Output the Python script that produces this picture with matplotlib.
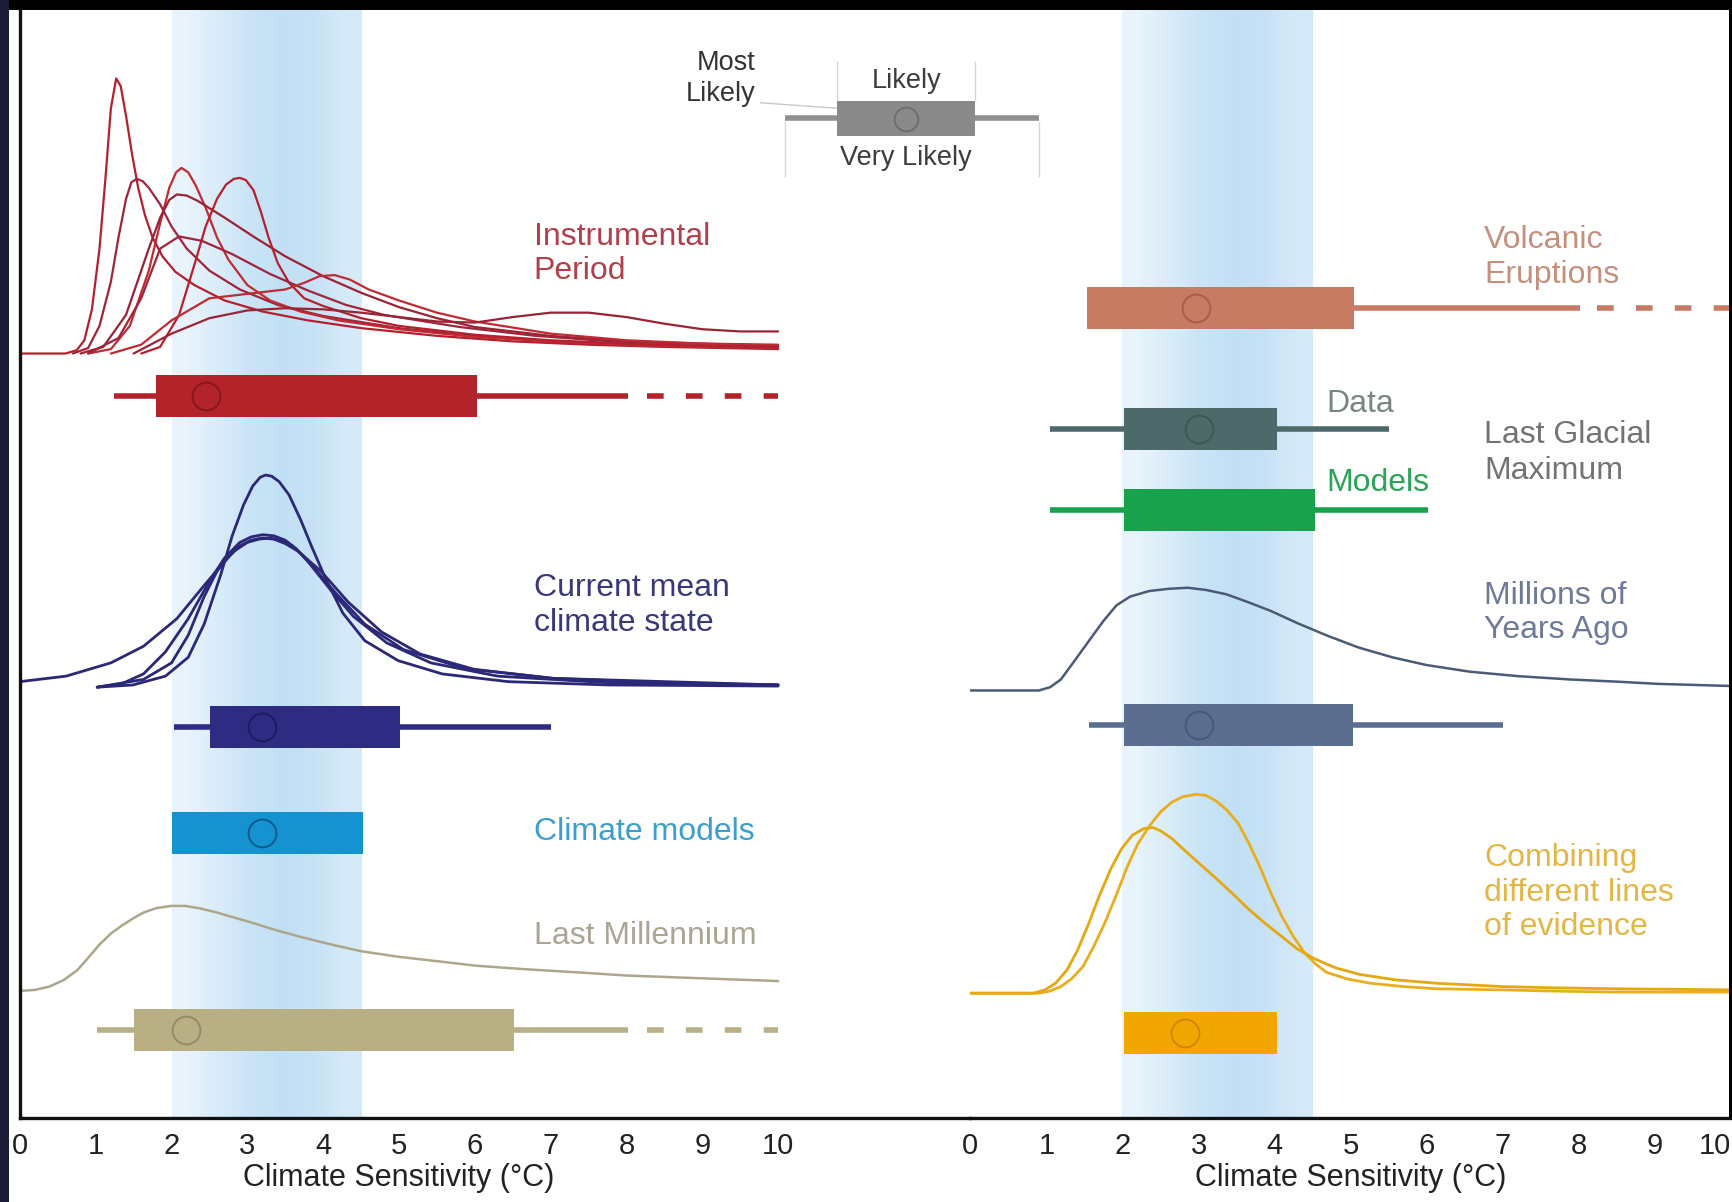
import matplotlib
matplotlib.use('Agg')
import matplotlib.pyplot as plt
from matplotlib.colors import LinearSegmentedColormap
from matplotlib.patches import Rectangle

plt.rcParams['font.family'] = ['Liberation Sans', 'DejaVu Sans']

# ---------------- data (climate sensitivity, deg C) ----------------
ticks = list(range(0, 11))
tick_labels = [str(t) for t in ticks]
xlabel = 'Climate Sensitivity (°C)'

# Instrumental period PDFs (x, relative height)
inst_x = [
    [0, 0.6, 0.75, 0.85, 0.95, 1.05, 1.13, 1.2, 1.27, 1.33, 1.4, 1.48, 1.56, 1.65, 1.75, 1.88, 2.05, 2.3, 2.7, 3.2, 3.8, 4.5, 5.5, 6.5, 7.5, 8.5, 10],
    [0.7, 0.9, 1.05, 1.2, 1.3, 1.4, 1.47, 1.54, 1.62, 1.7, 1.85, 2.0, 2.2, 2.5, 2.9, 3.4, 4.0, 5.0, 6.0, 7.0, 8.0, 9.0, 10],
    [0.9, 1.2, 1.45, 1.7, 1.85, 1.97, 2.06, 2.13, 2.22, 2.32, 2.45, 2.6, 2.75, 3.0, 3.3, 3.7, 4.2, 5.0, 6.0, 7.0, 8.0, 9.0, 10],
    [0.8, 1.1, 1.4, 1.7, 1.85, 1.97, 2.07, 2.2, 2.35, 2.7, 3.1, 3.5, 4.0, 4.5, 5.0, 5.5, 6.0, 7.0, 8.0, 9.0, 10],
    [1.6, 1.85, 2.1, 2.3, 2.45, 2.6, 2.72, 2.82, 2.9, 2.98, 3.08, 3.18, 3.28, 3.4, 3.55, 3.75, 4.0, 4.5, 5.0, 6.0, 7.0, 8.0, 9.0, 10],
    [0.9, 1.3, 1.6, 1.85, 2.1, 2.4, 2.8, 3.3, 3.8, 4.3, 4.8, 5.8, 6.8, 7.8, 8.8, 10],
    [1.2, 1.6, 2.0, 2.5, 3.0, 3.5, 3.75, 3.95, 4.15, 4.35, 4.6, 5.0, 5.5, 6.0, 7.0, 8.0, 9.0, 10],
    [1.5, 2.0, 2.5, 3.0, 3.5, 4.0, 4.5, 5.0, 5.5, 6.0, 6.5, 7.0, 7.5, 8.0, 8.5, 9.0, 9.5, 10],
]
inst_h = [
    [0, 0, 3, 12, 40, 95, 160, 222, 249, 242, 215, 180, 150, 125, 105, 88, 74, 62, 48, 38, 30, 23, 16, 11, 8, 6, 4],
    [0, 5, 25, 65, 105, 140, 155, 158, 156, 150, 135, 115, 95, 75, 58, 44, 34, 23, 16, 11, 8, 6, 5],
    [0, 4, 25, 75, 118, 150, 164, 168, 164, 152, 132, 105, 85, 62, 48, 38, 30, 22, 15, 11, 8, 6, 5],
    [0, 6, 35, 95, 123, 139, 144, 143, 138, 123, 105, 88, 70, 55, 42, 32, 24, 16, 11, 9, 7],
    [0, 6, 35, 80, 115, 140, 153, 158, 159, 157, 148, 128, 105, 82, 64, 50, 43, 32, 25, 17, 12, 9, 7, 6],
    [0, 14, 50, 95, 106, 102, 90, 72, 57, 44, 35, 24, 16, 11, 9, 7],
    [0, 8, 30, 50, 54, 58, 64, 70, 71, 67, 58, 48, 37, 29, 18, 12, 9, 8],
    [0, 18, 32, 39, 41, 40, 37, 33, 29, 28, 33, 37, 37, 33, 27, 22, 20, 20],
]

# Current mean climate state PDFs
cur_x = [
    [1.02, 1.49, 1.92, 2.22, 2.43, 2.65, 2.8, 2.95, 3.07, 3.17, 3.24, 3.32, 3.42, 3.55, 3.7, 3.85, 4.04, 4.26, 4.55, 4.99, 5.57, 6.44, 7.76, 10],
    [1.02, 1.34, 1.63, 1.92, 2.22, 2.51, 2.7, 2.9, 3.05, 3.2, 3.35, 3.5, 3.65, 3.82, 4.11, 4.4, 4.84, 5.42, 6.3, 7.76, 10],
    [0, 0.61, 1.2, 1.63, 2.07, 2.43, 2.7, 2.9, 3.05, 3.2, 3.35, 3.5, 3.67, 3.97, 4.33, 4.77, 5.28, 6.0, 7.03, 8.48, 10],
    [1.02, 1.63, 2.0, 2.22, 2.43, 2.6, 2.8, 3.0, 3.15, 3.3, 3.45, 3.59, 3.75, 3.88, 4.18, 4.55, 5.06, 5.86, 7.03, 10],
]
cur_h = [
    [-2, 0, 8, 25, 55, 100, 135, 163, 180, 188, 190, 189, 184, 172, 150, 125, 95, 65, 40, 22, 10, 3, 0, -1],
    [-2, 1, 10, 30, 60, 95, 115, 129, 134, 136, 135, 131, 123, 110, 85, 62, 38, 20, 8, 2, 0],
    [3, 8, 20, 35, 60, 90, 112, 126, 131, 133, 132, 128, 121, 103, 75, 48, 28, 14, 6, 2, 0],
    [-2, 5, 20, 45, 80, 103, 120, 129, 132, 133, 131, 126, 116, 106, 82, 55, 32, 15, 6, 0],
]

# Last millennium PDF
lm_x = [0, 0.2, 0.39, 0.58, 0.76, 0.9, 1.05, 1.2, 1.34, 1.5, 1.63, 1.8, 1.99, 2.18, 2.36, 2.6, 2.8, 3.1, 3.38, 3.7,
        4.11, 4.5, 4.99, 5.5, 6.0, 6.6, 7.32, 8.0, 8.78, 10]
lm_h = [0, 1, 4, 10, 19, 30, 42, 52, 59, 66, 71, 75, 77, 77, 75, 71, 67, 61, 55, 49, 42, 36, 31, 27, 23, 20, 17, 14, 12, 9]

# Millions of years ago PDF
mya_x = [0, 0.9, 1.05, 1.19, 1.35, 1.56, 1.75, 1.92, 2.1, 2.35, 2.6, 2.86, 3.1, 3.37, 3.65, 3.95, 4.3, 4.68, 5.1,
         5.55, 6.0, 6.57, 7.2, 7.88, 8.5, 9.04, 10.03]
mya_h = [0, 0, 3, 10, 25, 45, 63, 77, 85, 90, 92, 93, 91, 87, 80, 72, 61, 50, 39, 30, 23, 17, 13, 10, 8, 6, 4]

# Combining different lines of evidence PDFs
comb_x = [
    [0, 0.9, 1.05, 1.19, 1.33, 1.48, 1.62, 1.77, 1.92, 2.06, 2.2, 2.35, 2.5, 2.65, 2.8, 2.97, 3.1, 3.23, 3.37, 3.52,
     3.66, 3.81, 3.95, 4.1, 4.25, 4.39, 4.53, 4.68, 4.95, 5.26, 5.7, 6.13, 7.0, 7.59, 8.5, 10.03],
    [0, 0.83, 0.98, 1.12, 1.27, 1.41, 1.55, 1.7, 1.85, 1.99, 2.13, 2.28, 2.4, 2.5, 2.65, 2.79, 3.0, 3.23, 3.45, 3.66,
     3.88, 4.1, 4.3, 4.53, 4.8, 5.12, 5.6, 6.13, 7.0, 7.59, 8.5, 10.03],
]
comb_h = [
    [0, 0, 2, 6, 13, 24, 42, 64, 89, 114, 135, 151, 164, 173, 178, 180, 179, 174, 166, 154,
     136, 114, 91, 69, 51, 37, 27, 19, 13, 9, 6, 4, 3, 2, 1, 1],
    [0, 0, 3, 9, 21, 39, 62, 89, 113, 131, 143, 149, 150, 147, 140, 131, 118, 104, 90, 76,
     63, 51, 40, 31, 23, 17, 12, 9, 6, 5, 4, 3],
]

# Ranges: very likely low, likely low, most likely, likely high, very likely high, dashed-to
inst_rng = [1.24, 1.8, 2.45, 6.03, 8.02, 10.0]
cur_rng = [2.03, 2.51, 3.19, 5.01, 7.01, None]
gcm_rng = [None, 2.01, 3.19, 4.52, None, None]
lm_rng = [1.02, 1.5, 2.19, 6.52, 8.02, 10.0]
volc_rng = [1.53, 1.53, 2.97, 5.04, 8.02, 10.1]
lgmd_rng = [1.05, 2.02, 3.0, 4.03, 5.51, None]
lgmm_rng = [1.05, 2.02, None, 4.53, 6.02, None]
mya_rng = [1.56, 2.02, 3.0, 5.03, 7.0, None]
comb_rng = [None, 2.02, 2.82, 4.03, None, None]

likely_band = [2.0, 4.5]

# ---------------- layout ----------------
W, H = 1733, 1202
fig = plt.figure(figsize=(W / 100, H / 100), dpi=100)
fig.patch.set_facecolor('white')
SX, SY = 1568.0, 1088.0
AXB, AXT = 1012.0, 8.0
ax_b = (SY - AXB) / SY
ax_h = (AXB - AXT) / SY
axL = fig.add_axes([18 / SX, ax_b, (878 - 18) / SX, ax_h])
axR = fig.add_axes([878 / SX, ax_b, (SX - 878) / SX, ax_h])
axR.patch.set_alpha(0)
XL_MAX = (878 - 18) / 68.6
XR_MAX = (SX - 878) / 68.8

band_cmap = LinearSegmentedColormap.from_list(
    'band', ['#e8f3fb', '#d9ecf9', '#c9e4f7', '#c2e0f5', '#c7e2f6', '#d5eaf8'])

FS_LAB = 23
FS_TICK = 21
BOX_H = 38
WLW = 4.0


def panel(ax, xmax, last_right=False):
    ax.imshow([[0, 1, 2, 3, 4, 5]], extent=[likely_band[0], likely_band[1], AXB, AXT],
              aspect='auto', cmap=band_cmap, interpolation='bilinear', zorder=0)
    ax.set_xlim(0, xmax)
    ax.set_ylim(AXB, AXT)
    ax.set_yticks([])
    ax.set_xticks(ticks)
    labs = ax.set_xticklabels(tick_labels, fontsize=FS_TICK, color='#222222')
    if last_right:
        labs[-1].set_horizontalalignment('right')
    ax.tick_params(axis='x', which='major', length=0, pad=10)
    ax.set_xticks(ticks[1:-1], minor=True)
    ax.tick_params(axis='x', which='minor', direction='in', length=8, width=1.6, color='#333333')
    for s in ['top', 'right', 'left']:
        ax.spines[s].set_visible(False)
    ax.spines['bottom'].set_linewidth(2.4)
    ax.spines['bottom'].set_color('#111111')
    ax.set_xlabel(xlabel, fontsize=22, color='#222222')
    ax.xaxis.set_label_coords(5.0 / xmax, -(1053 - AXB) / (AXB - AXT))
    ax.xaxis.label.set_va('top')


panel(axL, XL_MAX)
panel(axR, XR_MAX, last_right=True)
axL.spines['left'].set_visible(True)
axL.spines['left'].set_linewidth(2.4)
axL.spines['left'].set_color('#111111')


def curves(ax, xs, hs, base, colors, lw):
    for i, (x, h) in enumerate(zip(xs, hs)):
        ax.plot(x, [base - v for v in h], color=colors[i % len(colors)], lw=lw,
                solid_joinstyle='round', solid_capstyle='round', zorder=2)


def boxrow(ax, y, rng, color, edge, h=BOX_H, lw=WLW, ms=20, dash_start=None):
    vlo, llo, mode, lhi, vhi, dto = rng
    if vlo is not None and vhi is not None:
        ax.hlines(y, vlo, vhi, color=color, lw=lw, zorder=3, capstyle='butt')
    if dto is not None:
        ax.hlines(y, dash_start, dto, color=color, lw=lw, zorder=3,
                  linestyles=[(0, (3.0, 4.0))], clip_on=False)
    ax.barh(y, lhi - llo, left=llo, height=h, color=color, zorder=4, linewidth=0)
    if mode is not None:
        ax.plot([mode], [y], 'o', ms=ms, mfc='none', mec=edge, mew=1.4, zorder=5)


# ---- left panel ----
curves(axL, inst_x, inst_h, 320, ['#b5202c', '#a0243a', '#c02a33', '#9a2335'], 1.6)
boxrow(axL, 358, inst_rng, '#b3232a', '#86171d', dash_start=8.27)
curves(axL, cur_x, cur_h, 620, ['#2b2877'], 2.0)
boxrow(axL, 658, cur_rng, '#2e2b83', '#1c1960')
boxrow(axL, 754, gcm_rng, '#1593d0', '#0b5a8e')
curves(axL, [lm_x], [lm_h], 897, ['#aca78b'], 1.8)
boxrow(axL, 932, lm_rng, '#b8af85', '#958b62', dash_start=8.27)

tx = (483 - 18) / 68.6
axL.text(tx, 230, 'Instrumental\nPeriod', fontsize=FS_LAB, color='#b0404c', va='center', ha='left', linespacing=1.2)
axL.text(tx, 548, 'Current mean\nclimate state', fontsize=FS_LAB, color='#38387a', va='center', ha='left', linespacing=1.2)
axL.text(tx, 753, 'Climate models', fontsize=FS_LAB, color='#3a9fd0', va='center', ha='left')
axL.text(tx, 847, 'Last Millennium', fontsize=FS_LAB, color='#aaa594', va='center', ha='left')

# ---- right panel ----
boxrow(axR, 279, volc_rng, '#c77b63', '#a55f49', dash_start=8.24)
boxrow(axR, 388, lgmd_rng, '#4e6969', '#3d5656')
boxrow(axR, 462, lgmm_rng, '#17a24b', '#118a3d')
curves(axR, [mya_x], [mya_h], 625, ['#4b5a77'], 1.8)
boxrow(axR, 656, mya_rng, '#5b6e8f', '#47597a')
curves(axR, comb_x, comb_h, 899, ['#e9ae1e', '#e5a812'], 2.0)
boxrow(axR, 935, comb_rng, '#f2a700', '#d08800')

rx = (1343 - 878) / 68.8
axR.text(rx, 233, 'Volcanic\nEruptions', fontsize=FS_LAB, color='#c4917f', va='center', ha='left', linespacing=1.2)
axR.text(rx, 410, 'Last Glacial\nMaximum', fontsize=FS_LAB, color='#737373', va='center', ha='left', linespacing=1.25)
axR.text(rx, 555, 'Millions of\nYears Ago', fontsize=FS_LAB, color='#6e7a98', va='center', ha='left', linespacing=1.2)
axR.text(rx, 808, 'Combining\ndifferent lines\nof evidence', fontsize=FS_LAB, color='#e3b646', va='center', ha='left', linespacing=1.2)
dx = (1200 - 878) / 68.8
axR.text(dx, 366, 'Data', fontsize=FS_LAB, color='#7b8585', va='center', ha='left')
axR.text(dx, 437, 'Models', fontsize=FS_LAB, color='#2aa457', va='center', ha='left')

# ---- legend (key) ----
def lx(px):
    return (px - 18) / 68.6

FS_KEY = 19.5
kc = '#8a8a8a'
axL.hlines(107, lx(710), lx(940), color='#909090', lw=WLW, zorder=3, clip_on=False)
axL.barh(107, lx(882) - lx(757), left=lx(757), height=32, color=kc, zorder=4, clip_on=False)
axL.plot([lx(820)], [108], 'o', ms=17, mfc='none', mec='#6c6c6c', mew=1.3, zorder=5, clip_on=False)
for px in (757, 882):
    axL.vlines(lx(px), 55, 91, color='#d6d6d6', lw=1.0, zorder=2, clip_on=False)
for px in (710, 940):
    axL.vlines(lx(px), 110, 160, color='#d6d6d6', lw=1.0, zorder=2, clip_on=False)
axL.plot([lx(688), lx(757)], [93, 98], color='#c8c8c8', lw=1.0, zorder=2, clip_on=False)
axL.text(lx(820), 73, 'Likely', fontsize=FS_KEY, color='#3c3c3c', ha='center', va='center', clip_on=False)
axL.text(lx(820), 143, 'Very Likely', fontsize=FS_KEY, color='#3c3c3c', ha='center', va='center', clip_on=False)
axL.text(lx(684), 71.5, 'Most\nLikely', fontsize=FS_KEY, color='#333333', ha='right', va='center',
         linespacing=1.25, clip_on=False)

# ---- screenshot frame ----
fig.patches.append(Rectangle((0, 1 - 9 / SY), 1, 9 / SY, transform=fig.transFigure,
                             facecolor='black', edgecolor='none', zorder=10))
fig.patches.append(Rectangle((0, 0), 8 / SX, 1, transform=fig.transFigure,
                             facecolor='#1b1b35', edgecolor='none', zorder=10))
fig.patches.append(Rectangle((1 - 4 / SX, ax_b), 4 / SX, 1 - ax_b, transform=fig.transFigure,
                             facecolor='black', edgecolor='none', zorder=10))

fig.savefig('out.png', dpi=100)
